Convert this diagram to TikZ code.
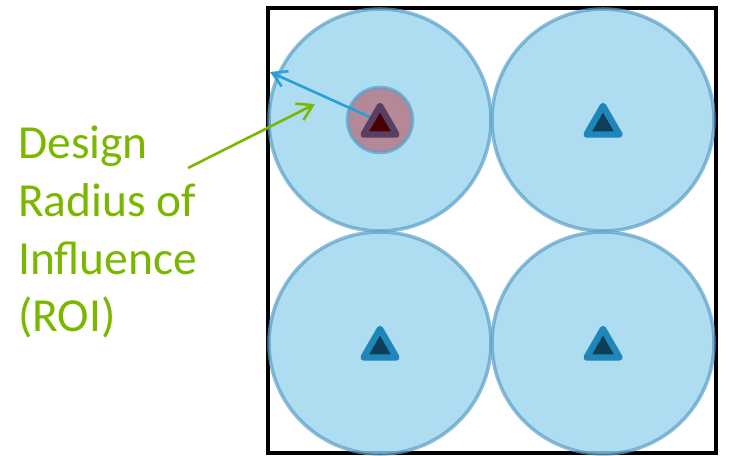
\documentclass[tikz,border=0pt]{standalone}
\usepackage{fontspec}
\setmainfont{Carlito}
\usetikzlibrary{shapes.geometric,arrows.meta}
\definecolor{roifill}{RGB}{154,211,238}
\definecolor{roiedge}{RGB}{90,160,200}
\definecolor{wellfill}{RGB}{181,136,152}
\definecolor{triblue}{RGB}{30,134,184}
\definecolor{trifill}{RGB}{14,62,88}
\definecolor{trired}{RGB}{88,62,96}
\definecolor{tridark}{RGB}{74,0,0}
\definecolor{roigreen}{RGB}{122,184,0}
\definecolor{arrblue}{RGB}{39,160,216}

\begin{document}
\begin{tikzpicture}[x=0.03cm,y=-0.03cm,
		zone/.style={circle,draw=roiedge,line width=3pt,fill=roifill,fill opacity=0.8,draw opacity=0.7,
			minimum size=6.66cm,inner sep=0pt},
		pump/.style={regular polygon,regular polygon sides=3,minimum size=1.14cm,inner sep=0pt,
			draw=triblue,fill=trifill,line width=5.5pt,line join=round},
		label/.style={text=roigreen,align=left,font=\fontsize{40.5}{49.5}\selectfont}]
			\useasboundingbox (0,0) rectangle (746,456);
			\draw[line width=4pt] (268,8) rectangle (716,453);
			% four zones of influence
			\node[zone] (z1) at (380,120) {};
			\node[zone] (z2) at (603,120) {};
			\node[zone] (z3) at (380,343) {};
			\node[zone] (z4) at (603,343) {};
			\node[circle,draw=roiedge,draw opacity=0.7,line width=3pt,fill=wellfill,minimum size=1.95cm,inner sep=0pt] (w1) at (380,120) {};
			% radius arrow
			\coordinate (r1) at (270,72);
			\draw[arrblue,line width=2.2pt,-{Straight Barb[length=0.42cm,width=0.5cm]}] (372,118) -- (r1);
			% pumping wells
			\node[pump,draw=trired,fill=tridark] (p1) at (380,125) {};
			\node[pump] (p2) at (603,125) {};
			\node[pump] (p3) at (380,348) {};
			\node[pump] (p4) at (603,348) {};
			% label
			\node[label,anchor=base west,inner sep=0pt] (roi) at (18,332) {Design\\Radius of\\Influence\\(ROI)};
			\coordinate (g0) at (188,168);
			\coordinate (g1) at (315,104);
			\draw[roigreen,line width=2.2pt,-{Straight Barb[length=0.45cm,width=0.55cm]}] (g0) -- (g1);
		\end{tikzpicture}
\end{document}
